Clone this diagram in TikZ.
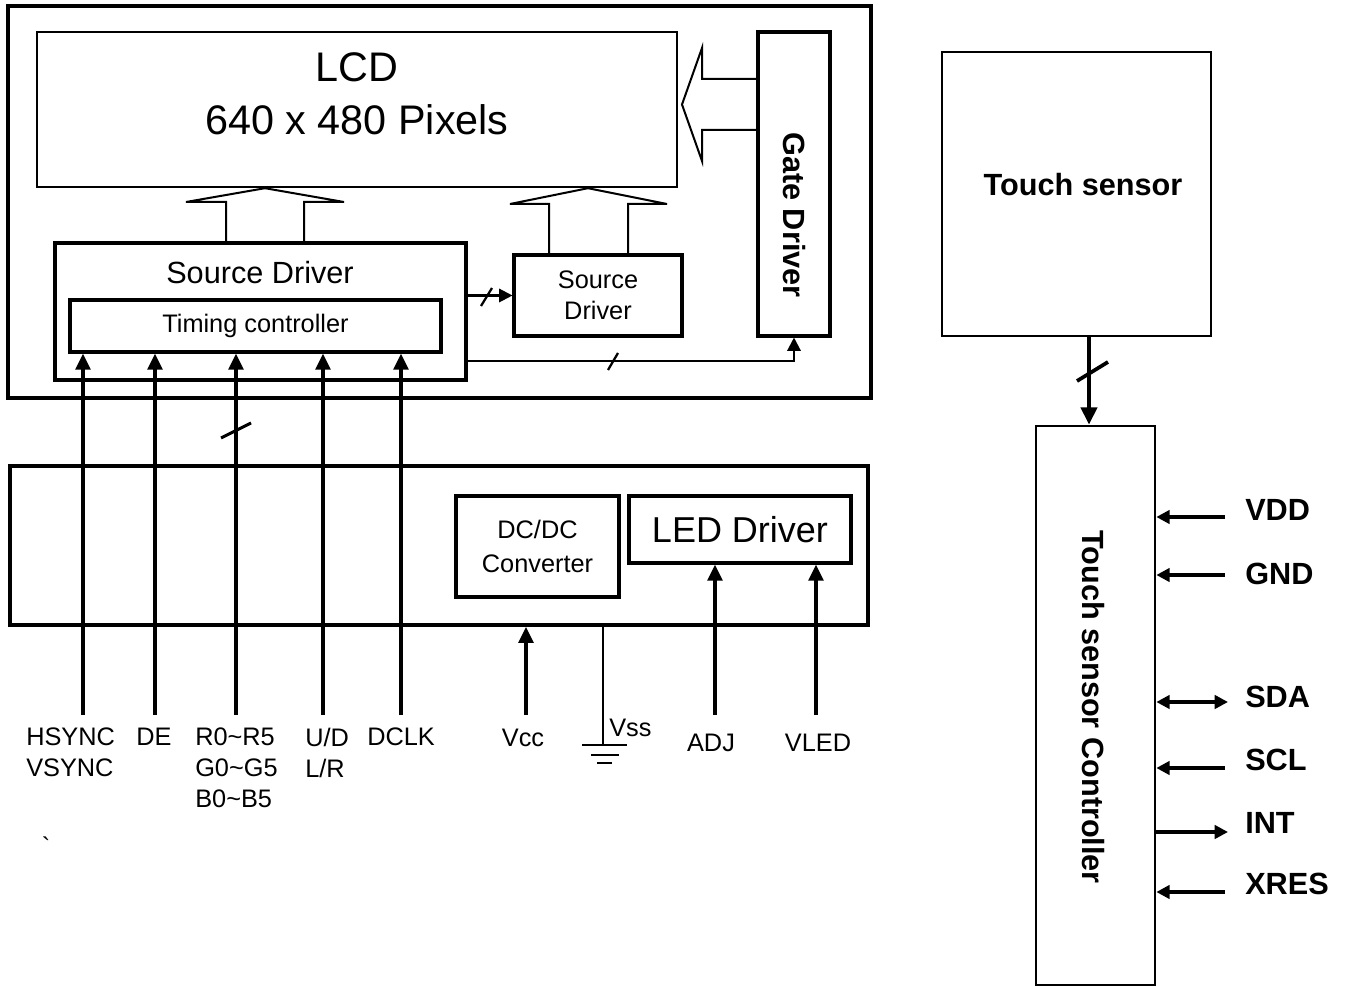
\documentclass[tikz,border=0pt]{standalone}
\usepackage{fontspec}
\setmainfont{Liberation Sans}
\usetikzlibrary{arrows.meta}

\tikzset{
  box/.style={draw, line width=2.3pt, inner sep=0pt},
  fat/.style={line width=1.5pt, line join=miter},
  sig/.style={line width=2.6pt, -{Triangle[length=12pt,width=11pt]}},
  thin/.style={line width=1.6pt, -{Triangle[length=10pt,width=10pt]}},
  slash/.style={line width=1.7pt},
  pinline/.style={line width=2.6pt},
  lbl/.style={font=\fontsize{19}{23.25}\selectfont, inner sep=0pt},
  pin/.style={font=\fontsize{23}{28}\selectfont\bfseries, inner sep=0pt, anchor=west},
}

\begin{document}
\begin{tikzpicture}[x=0.75pt, y=-0.75pt]
\useasboundingbox (0,0) rectangle (1347,987);
% display module
\node[box, line width=3.2pt, minimum width=647.25pt, minimum height=294pt] (module) at (439.5,202) {};
\node[box, line width=1.8pt, minimum width=480pt, minimum height=116.25pt] (lcd) at (357,109.5) {};
\node[align=center, font=\fontsize{31}{40}\selectfont] (lcdtxt) at (357,93.5) {LCD\\640 x 480 Pixels};
\node[box, minimum width=54pt, minimum height=228pt] (gate) at (794,184) {};
\node[rotate=-90, font=\fontsize{23}{28}\selectfont\bfseries] (gatetxt) at (794,215) {Gate Driver};
\node[box, minimum width=308.25pt, minimum height=102.75pt] (srcA) at (260.5,311.5) {};
\node[font=\fontsize{23}{28}\selectfont] (srcAtxt) at (260,273) {Source Driver};
\node[box, minimum width=278.25pt, minimum height=39pt, font=\fontsize{19}{23}\selectfont] (tcon) at (255.5,326) {Timing controller};
\node[box, minimum width=126pt, minimum height=60.75pt, align=center, font=\fontsize{19}{23.25}\selectfont] (srcB) at (598,295.5) {Source\\Driver};

% wide buses
\draw[fat] (226,0 |- srcA.north) |- (186,202) -- (265,0 |- lcd.south) -- (344,202) -| (304,0 |- srcA.north);
\draw[fat] (549,0 |- srcB.north) |- (510,204) -- (588,0 |- lcd.south) -- (667,204) -| (628,0 |- srcB.north);
\draw[fat] (gate.west |- 0,79) -| (702,48) -- (682,104.5) -- (702,161) |- (gate.west |- 0,130);

% control lines
\draw[thin] (srcA.east |- srcB.west) -- (srcB.west);
\draw[slash] (481,306) -- (492,288);
\draw[thin] (srcA.east |- 0,361) -| (gate.south);
\draw[slash] (608,370) -- (618,353);

% interface signals
\foreach \x/\n in {83/hs, 155/de, 236/rgb, 323/ud, 401/clk} {
  \coordinate (\n) at (\x,715);
  \draw[sig] (\n) -- (\n |- tcon.south);
}
\draw[slash, line width=2.2pt] (221,438) -- (251,423);
\node[lbl, align=left, anchor=north west] (hstxt) at (26,728) {HSYNC\\VSYNC};
\node[lbl, anchor=north west] (detxt) at (136,728) {DE};
\node[lbl, align=left, anchor=north west] (rgbtxt) at (195,728) {R0\textasciitilde R5\\G0\textasciitilde G5\\B0\textasciitilde B5};
\node[lbl, align=left, anchor=north west] (udtxt) at (305,728) {U/D\\L/R};
\node[lbl, anchor=north west] (clktxt) at (367,728) {DCLK};
\node[lbl] (tick) at (46,846) {\textasciigrave};

% power board
\node[box, line width=2.8pt, minimum width=643.5pt, minimum height=119.25pt] (lower) at (439,545.5) {};
\node[box, minimum width=122.25pt, minimum height=75.75pt, align=center, font=\fontsize{19}{25}\selectfont] (dcdc) at (537.5,546.5) {DC/DC\\Converter};
\node[box, minimum width=166.5pt, minimum height=50.25pt, font=\fontsize{27}{32}\selectfont] (led) at (740,529.5) {LED Driver};

\coordinate (vcc) at (526,715);
\draw[sig] (vcc) -- (vcc |- lower.south);
\coordinate (vss) at (603,745);
\draw[slash] (vss |- lower.south) -- (vss);
\draw[slash] (582,745) -- (627,745) (591,755) -- (619,755) (597,763) -- (612,763);
\coordinate (adj) at (715,715);
\draw[sig] (adj) -- (adj |- led.south);
\coordinate (vled) at (816,715);
\draw[sig] (vled) -- (vled |- led.south);
\node[lbl, anchor=base] (vcctxt) at (523,746) {Vcc};
\node[lbl, anchor=base west] (vsstxt) at (609,736) {Vss};
\node[lbl, anchor=base] (adjtxt) at (711,751) {ADJ};
\node[lbl, anchor=base] (vledtxt) at (818,751) {VLED};

% touch panel
\node[box, line width=1.8pt, minimum width=201.75pt, minimum height=213pt] (touch) at (1076.5,194) {};
\node[font=\fontsize{23}{28}\selectfont\bfseries] (touchtxt) at (1083,185) {Touch sensor};
\node[box, line width=2pt, minimum width=89.25pt, minimum height=419.25pt] (tsc) at (1095.5,705.5) {};
\node[rotate=-90, font=\fontsize{23}{28}\selectfont\bfseries] (tsctxt) at (1093,707) {Touch sensor Controller};
\draw[line width=3.2pt, -{Triangle[length=13pt,width=12pt]}] (1089,0 |- touch.south) -- (1089,0 |- tsc.north);
\draw[line width=2.8pt] (1077,381) -- (1108,362);

\coordinate (vddp) at (1225,517);
\draw[pinline, -{Triangle[length=10pt,width=10pt]}] (vddp) -- (tsc.east |- vddp);
\coordinate (gndp) at (1225,575);
\draw[pinline, -{Triangle[length=10pt,width=10pt]}] (gndp) -- (tsc.east |- gndp);
\coordinate (sdap) at (1228,702);
\draw[pinline, {Triangle[length=10pt,width=10pt]}-{Triangle[length=10pt,width=10pt]}] (tsc.east |- sdap) -- (sdap);
\coordinate (sclp) at (1225,768);
\draw[pinline, -{Triangle[length=10pt,width=10pt]}] (sclp) -- (tsc.east |- sclp);
\coordinate (intp) at (1228,832);
\draw[pinline, -{Triangle[length=10pt,width=10pt]}] (tsc.east |- intp) -- (intp);
\coordinate (xresp) at (1225,892);
\draw[pinline, -{Triangle[length=10pt,width=10pt]}] (xresp) -- (tsc.east |- xresp);
\node[pin] (vdd) at (1245,510) {VDD};
\node[pin] (gnd) at (1245,574) {GND};
\node[pin] (sda) at (1245,697) {SDA};
\node[pin] (scl) at (1245,760) {SCL};
\node[pin] (int) at (1245,823) {INT};
\node[pin] (xres) at (1245,884) {XRES};
\end{tikzpicture}
\end{document}
